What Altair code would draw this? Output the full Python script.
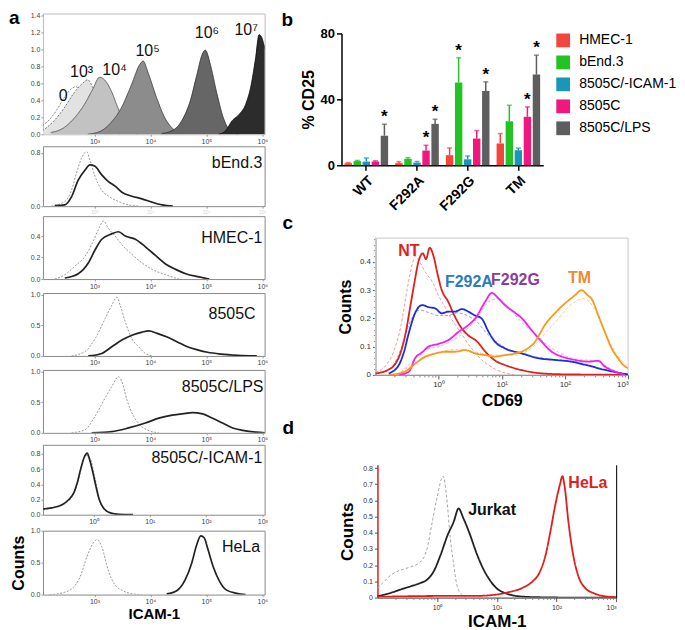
import math
import altair as alt
import pandas as pd

FONT = "Liberation Sans"
LBL = "'10' + ['⁰','¹','²','³','⁴','⁵','⁶','⁷'][round(datum.value)]"
ZFMT = "datum.value == 0 ? '0' : format(datum.value, '.1f')"

# ---------------- panel a : calibration beads (top) ----------------
A_TOP_NAMES = ["0", "10³", "10⁴", "10⁵", "10⁶", "10⁷"]
A_TOP_0_X = [2.07, 2.22, 2.34, 2.46, 2.58, 2.67, 2.76, 2.88, 3.0, 3.12, 3.24]
A_TOP_0_Y = [0.1, 0.19, 0.3, 0.43, 0.53, 0.56, 0.47, 0.24, 0.08, 0.02, 0.0]
A_TOP_3_X = [2.07, 2.28, 2.46, 2.64, 2.79, 2.88, 2.97, 3.09, 3.21, 3.33, 3.45]
A_TOP_3_Y = [0.04, 0.16, 0.31, 0.49, 0.6, 0.64, 0.55, 0.35, 0.16, 0.04, 0.0]
A_TOP_4_X = [2.22, 2.46, 2.64, 2.82, 2.97, 3.09, 3.18, 3.3, 3.42, 3.54, 3.66, 3.78]
A_TOP_4_Y = [0.02, 0.08, 0.19, 0.35, 0.53, 0.67, 0.64, 0.51, 0.31, 0.14, 0.04, 0.0]
A_TOP_5_X = [2.88, 3.12, 3.3, 3.48, 3.66, 3.81, 3.87, 3.96, 4.11, 4.26, 4.41, 4.56]
A_TOP_5_Y = [0.0, 0.04, 0.14, 0.31, 0.58, 0.82, 0.86, 0.72, 0.43, 0.19, 0.06, 0.01]
A_TOP_6_X = [4.2, 4.38, 4.56, 4.71, 4.83, 4.92, 4.98, 5.07, 5.19, 5.31, 5.43, 5.58]
A_TOP_6_Y = [0.01, 0.04, 0.16, 0.39, 0.7, 0.93, 0.99, 0.82, 0.47, 0.18, 0.04, 0.0]
A_TOP_7_X = [5.22, 5.34, 5.46, 5.58, 5.7, 5.79, 5.88, 5.94, 5.98, 6.03, 6.1]
A_TOP_7_Y = [0.0, 0.04, 0.16, 0.23, 0.35, 0.55, 0.9, 1.17, 1.15, 1.05, 0.9]
A_TOP_LBL_X = [2.44, 2.77, 3.36, 3.95, 5.01, 5.71]
A_TOP_LBL_Y = [0.45, 0.735, 0.76, 0.98, 1.19, 1.23]

# ---------------- panel a : cell lines ----------------
A_BEND_ISO_X = [2.23, 2.47, 2.59, 2.68, 2.77, 2.86, 2.92, 3.01, 3.13, 3.25, 3.43, 3.61, 3.8]
A_BEND_ISO_Y = [0.0, 0.07, 0.24, 0.5, 0.72, 0.82, 0.69, 0.45, 0.24, 0.15, 0.07, 0.02, 0.0]
A_BEND_X = [2.29, 2.47, 2.59, 2.71, 2.83, 2.92, 3.01, 3.13, 3.25, 3.37, 3.49, 3.67, 3.85, 4.03, 4.21, 4.4]
A_BEND_Y = [0.01, 0.02, 0.14, 0.39, 0.54, 0.62, 0.6, 0.47, 0.37, 0.3, 0.21, 0.15, 0.11, 0.06, 0.02, 0.0]

A_HMEC_ISO_X = [2.29, 2.47, 2.65, 2.83, 2.95, 3.07, 3.16, 3.25, 3.37, 3.49, 3.67, 3.85, 4.03, 4.27, 4.51]
A_HMEC_ISO_Y = [0.0, 0.04, 0.12, 0.21, 0.32, 0.46, 0.54, 0.47, 0.4, 0.32, 0.23, 0.15, 0.09, 0.04, 0.0]
A_HMEC_X = [2.47, 2.71, 2.89, 3.01, 3.13, 3.31, 3.43, 3.55, 3.73, 3.91, 4.09, 4.27, 4.45, 4.63, 4.87, 5.05]
A_HMEC_Y = [0.01, 0.05, 0.15, 0.27, 0.37, 0.42, 0.44, 0.4, 0.37, 0.3, 0.22, 0.14, 0.09, 0.05, 0.02, 0.0]

A_8505_ISO_X = [2.59, 2.83, 3.01, 3.19, 3.31, 3.40, 3.46, 3.55, 3.67, 3.79, 3.91, 4.03]
A_8505_ISO_Y = [0.0, 0.07, 0.28, 0.61, 0.83, 0.96, 0.83, 0.56, 0.28, 0.15, 0.04, 0.0]
A_8505_X = [2.89, 3.13, 3.31, 3.49, 3.67, 3.85, 3.97, 4.12, 4.3, 4.48, 4.66, 4.84, 5.02, 5.26, 5.56, 5.9]
A_8505_Y = [0.0, 0.04, 0.15, 0.26, 0.34, 0.39, 0.41, 0.37, 0.31, 0.23, 0.15, 0.1, 0.06, 0.03, 0.01, 0.0]

A_LPS_ISO_X = [2.59, 2.83, 3.01, 3.19, 3.31, 3.43, 3.49, 3.58, 3.70, 3.85, 4.03, 4.15]
A_LPS_ISO_Y = [0.0, 0.05, 0.27, 0.57, 0.76, 0.92, 0.84, 0.54, 0.27, 0.1, 0.02, 0.0]
A_LPS_X = [2.95, 3.31, 3.61, 3.91, 4.15, 4.39, 4.63, 4.75, 4.93, 5.11, 5.29, 5.47, 5.65, 5.89, 6.05]
A_LPS_Y = [0.0, 0.02, 0.08, 0.16, 0.24, 0.29, 0.32, 0.33, 0.31, 0.24, 0.16, 0.08, 0.04, 0.01, 0.0]

A_ICAM_ISO_X = [-0.9, -0.7, -0.5, -0.38, -0.3, -0.22, -0.14, -0.06, 0.02, 0.1, 0.2, 0.35, 0.6]
A_ICAM_ISO_Y = [0.06, 0.1, 0.15, 0.24, 0.38, 0.6, 0.78, 0.74, 0.5, 0.22, 0.06, 0.01, 0.0]
A_ICAM_X = [-0.9, -0.74, -0.56, -0.44, -0.35, -0.29, -0.23, -0.17, -0.11, -0.08, -0.02, 0.04, 0.1, 0.19, 0.31, 0.45, 0.7]
A_ICAM_Y = [0.075, 0.09, 0.13, 0.2, 0.29, 0.42, 0.6, 0.75, 0.81, 0.75, 0.58, 0.38, 0.2, 0.075, 0.02, 0.005, 0.0]

A_HELA_ISO_X = [2.2, 2.44, 2.62, 2.74, 2.86, 2.98, 3.05, 3.13, 3.25, 3.36, 3.51, 3.69, 3.85]
A_HELA_ISO_Y = [0.0, 0.03, 0.11, 0.27, 0.58, 0.81, 0.86, 0.75, 0.37, 0.16, 0.06, 0.01, 0.0]
A_HELA_X = [4.29, 4.47, 4.62, 4.74, 4.82, 4.9, 4.96, 5.03, 5.12, 5.24, 5.36, 5.54, 5.7]
A_HELA_Y = [0.01, 0.06, 0.23, 0.5, 0.76, 0.92, 0.89, 0.7, 0.44, 0.2, 0.07, 0.02, 0.0]

A_LABELS = ["bEnd.3", "HMEC-1", "8505C", "8505C/LPS", "8505C/-ICAM-1", "HeLa"]
A_LABEL_X = [6.0, 6.0, 5.88, 6.02, 3.0, 5.96]
A_LABEL_Y = [0.645, 0.38, 0.69, 0.75, 0.74, 0.75]

# ---------------- panel b : % CD25 ----------------
B_GROUPS = ["WT", "F292A", "F292G", "TM"]
B_SERIES = ["HMEC-1", "bEnd.3", "8505C/-ICAM-1", "8505C", "8505C/LPS"]
B_HMEC = [1.2, 1.3, 6.1, 13.2]
B_HMEC_ERR = [1.6, 2.2, 10.5, 19.2]
B_BEND = [2.5, 3.9, 50.2, 26.7]
B_BEND_ERR = [2.9, 4.6, 65.2, 36.4]
B_ICAM = [2.2, 1.6, 3.6, 9.1]
B_ICAM_ERR = [4.4, 2.3, 5.6, 10.4]
B_8505C = [2.2, 8.9, 16.2, 29.4]
B_8505C_ERR = [2.7, 12.1, 21.0, 35.4]
B_LPS = [17.9, 25.1, 45.1, 55.0]
B_LPS_ERR = [24.9, 27.9, 50.6, 66.8]
B_STARS = [("WT", "8505C/LPS"), ("F292A", "8505C"), ("F292A", "8505C/LPS"),
           ("F292G", "bEnd.3"), ("F292G", "8505C/LPS"), ("TM", "8505C"), ("TM", "8505C/LPS")]
B_COLORS = ["#f2463c", "#22c322", "#1a96b9", "#f0187f", "#5e5e5e"]

# ---------------- panel c : CD69 ----------------
C_NT_X = [-1.0, -0.8, -0.7, -0.6, -0.52, -0.45, -0.38, -0.32, -0.25, -0.2, -0.14, -0.08, -0.02, 0.05, 0.15, 0.25, 0.35, 0.47, 0.6, 0.75, 0.9, 1.05, 1.3, 1.6, 2.0, 2.5, 3.0]
C_NT_Y = [0.005, 0.018, 0.035, 0.08, 0.15, 0.24, 0.33, 0.4, 0.43, 0.41, 0.45, 0.42, 0.36, 0.3, 0.26, 0.21, 0.17, 0.14, 0.12, 0.08, 0.05, 0.035, 0.018, 0.006, 0.002, 0.001, 0.0]
C_NT_ISO_X = [-1.0, -0.85, -0.7, -0.6, -0.5, -0.42, -0.37, -0.3, -0.2, -0.1, 0.0, 0.1, 0.2, 0.35, 0.5, 0.7, 0.9, 1.2]
C_NT_ISO_Y = [0.01, 0.03, 0.09, 0.17, 0.3, 0.39, 0.42, 0.4, 0.36, 0.33, 0.28, 0.24, 0.2, 0.15, 0.1, 0.05, 0.02, 0.0]
C_A_X = [-0.79, -0.63, -0.55, -0.47, -0.37, -0.26, -0.16, -0.05, 0.05, 0.16, 0.26, 0.37, 0.47, 0.58, 0.68, 0.79, 0.89, 1.05, 1.32, 1.58, 1.84, 2.1, 2.37, 2.63, 2.89, 3.0]
C_A_Y = [0.005, 0.035, 0.08, 0.15, 0.22, 0.247, 0.24, 0.235, 0.218, 0.224, 0.224, 0.233, 0.224, 0.21, 0.2, 0.153, 0.118, 0.094, 0.076, 0.059, 0.053, 0.047, 0.033, 0.018, 0.006, 0.002]
C_A_ISO_X = [-0.85, -0.7, -0.6, -0.5, -0.4, -0.3, -0.15, 0.0, 0.15, 0.3, 0.45, 0.6, 0.75, 0.9, 1.1, 1.4, 1.8, 2.2, 2.6, 3.0]
C_A_ISO_Y = [0.01, 0.04, 0.09, 0.16, 0.21, 0.23, 0.22, 0.21, 0.21, 0.22, 0.21, 0.19, 0.15, 0.12, 0.09, 0.07, 0.055, 0.045, 0.02, 0.002]
C_G_X = [-0.63, -0.47, -0.37, -0.26, -0.16, 0.0, 0.16, 0.32, 0.47, 0.58, 0.74, 0.84, 0.95, 1.05, 1.21, 1.32, 1.47, 1.63, 1.79, 1.95, 2.16, 2.37, 2.53, 2.63, 2.79, 2.95]
C_G_Y = [0.0, 0.012, 0.06, 0.08, 0.1, 0.11, 0.124, 0.153, 0.176, 0.2, 0.26, 0.29, 0.27, 0.247, 0.22, 0.2, 0.159, 0.118, 0.082, 0.065, 0.053, 0.047, 0.05, 0.03, 0.012, 0.0]
C_G_ISO_X = [-0.6, -0.4, -0.2, 0.0, 0.2, 0.4, 0.6, 0.8, 0.95, 1.1, 1.3, 1.5, 1.7, 1.9, 2.2, 2.5, 2.7, 2.95]
C_G_ISO_Y = [0.01, 0.05, 0.09, 0.1, 0.12, 0.15, 0.2, 0.26, 0.27, 0.24, 0.19, 0.15, 0.11, 0.08, 0.055, 0.05, 0.025, 0.0]
C_TM_X = [-0.79, -0.53, -0.37, -0.21, -0.05, 0.11, 0.26, 0.42, 0.58, 0.74, 0.89, 1.05, 1.21, 1.37, 1.53, 1.68, 1.84, 2.0, 2.16, 2.26, 2.37, 2.42, 2.53, 2.63, 2.74, 2.84, 2.95, 3.0]
C_TM_Y = [0.0, 0.012, 0.04, 0.065, 0.076, 0.082, 0.082, 0.088, 0.076, 0.07, 0.065, 0.07, 0.076, 0.088, 0.118, 0.176, 0.218, 0.253, 0.282, 0.3, 0.28, 0.27, 0.21, 0.153, 0.094, 0.059, 0.03, 0.024]
C_TM_ISO_X = [-0.6, -0.3, 0.0, 0.3, 0.6, 0.9, 1.2, 1.5, 1.7, 1.9, 2.1, 2.3, 2.45, 2.6, 2.75, 2.9, 3.0]
C_TM_ISO_Y = [0.01, 0.05, 0.08, 0.09, 0.08, 0.07, 0.07, 0.1, 0.15, 0.2, 0.25, 0.27, 0.24, 0.17, 0.1, 0.05, 0.03]
C_LABELS = ["NT", "F292A", "F292G", "TM"]
C_LABEL_X = [-0.64, 0.1, 0.83, 2.05]
C_LABEL_Y = [0.44, 0.33, 0.335, 0.343]

# ---------------- panel d : ICAM-1 ----------------
D_JUR_X = [-1.0, -0.77, -0.61, -0.44, -0.28, -0.17, -0.06, 0.06, 0.17, 0.28, 0.36, 0.44, 0.55, 0.66, 0.77, 0.88, 0.99, 1.16, 1.43, 1.71, 2.26, 3.0]
D_JUR_Y = [0.008, 0.03, 0.05, 0.07, 0.09, 0.11, 0.16, 0.265, 0.38, 0.47, 0.55, 0.49, 0.39, 0.275, 0.18, 0.11, 0.06, 0.025, 0.006, 0.002, 0.0, 0.0]
D_ISO_X = [-1.0, -0.94, -0.77, -0.61, -0.44, -0.28, -0.17, -0.08, 0.0, 0.1, 0.16, 0.22, 0.28, 0.33, 0.41, 0.5]
D_ISO_Y = [0.06, 0.08, 0.14, 0.17, 0.19, 0.22, 0.3, 0.47, 0.62, 0.75, 0.62, 0.37, 0.2, 0.08, 0.02, 0.0]
D_HELA_X = [-1.0, -0.5, 0.0, 0.6, 0.88, 1.16, 1.43, 1.6, 1.71, 1.82, 1.9, 1.98, 2.06, 2.1, 2.14, 2.2, 2.28, 2.37, 2.48, 2.64, 2.81, 3.0]
D_HELA_Y = [0.005, 0.008, 0.01, 0.01, 0.014, 0.03, 0.06, 0.1, 0.15, 0.265, 0.41, 0.57, 0.7, 0.75, 0.68, 0.47, 0.265, 0.13, 0.06, 0.025, 0.008, 0.003]
D_LABELS = ["Jurkat", "HeLa"]
D_LABEL_X = [0.52, 2.2]
D_LABEL_Y = [0.54, 0.71]


def frame(xs, ys, **extra):
    d = pd.DataFrame({"x": xs, "y": ys})
    for k, v in extra.items():
        d[k] = v
    return d


def minor_log(lo, hi):
    return [d + math.log10(k) for d in range(lo, hi) for k in range(2, 10)]


ONE = pd.DataFrame({"k": [0]})


def letter(ch, dx, dy, opacity=1.0):
    return alt.Chart(ONE).mark_text(
        text=ch, fontSize=19, fontWeight="bold", font=FONT, align="left",
        baseline="alphabetic", opacity=opacity).encode(x=alt.value(dx), y=alt.value(dy))


# ================= panel a =================
A_W = 222
A_XDOM = [2.08, 6.04]


def a_axes(xdom, xvals, ydom, yvals, xlab_color="#444", xtitle=None, ytitle=None, xlab_size=7):
    X = alt.X("x:Q", scale=alt.Scale(domain=xdom, nice=False, zero=False),
              axis=alt.Axis(values=xvals, labelExpr=LBL, grid=False, domain=False, tickSize=2,
                            labelFontSize=xlab_size, labelPadding=1, labelColor=xlab_color,
                            tickColor="#999", labelFont=FONT, title=xtitle, titleFont=FONT,
                            titleFontSize=15, titleFontWeight="bold", titlePadding=2))
    Y = alt.Y("y:Q", scale=alt.Scale(domain=ydom, nice=False, zero=False),
              axis=alt.Axis(values=yvals, grid=False, domain=False, tickSize=2, labelFontSize=7,
                            labelPadding=1, labelColor="#444", tickColor="#999", labelFont=FONT,
                            title=ytitle, titleFont=FONT, titleFontSize=16, titleFontWeight="bold",
                            titlePadding=4))
    return X, Y


def a_panel(curves, height, ydom, yvals, label_i, xdom=A_XDOM, xvals=(3, 4, 5, 6),
            xlab_color="#444", xtitle=None, ytitle=None, xlab_size=7):
    X, Y = a_axes(xdom, list(xvals), ydom, yvals, xlab_color, xtitle, ytitle, xlab_size)
    layers = []
    for xs, ys, kind in curves:
        d = frame(xs, ys)
        if kind == "iso":
            m = alt.Chart(d).mark_line(color="#9a9a9a", strokeWidth=1, strokeDash=[2, 1.5],
                                       interpolate="monotone", clip=True)
        else:
            m = alt.Chart(d).mark_line(color="#222222", strokeWidth=1.7, interpolate="monotone",
                                       clip=True)
        layers.append(m.encode(x=X, y=Y))
    t = alt.Chart(pd.DataFrame({"x": [A_LABEL_X[label_i]], "y": [A_LABEL_Y[label_i]],
                                "t": [A_LABELS[label_i]]})).mark_text(
        align="right", baseline="middle", fontSize=16, font=FONT, color="#111").encode(
        x=X, y=Y, text="t:N")
    layers.append(t)
    return alt.layer(*layers).properties(
        width=A_W, height=height, view=alt.ViewBackground(stroke="#8a8a8a", strokeWidth=1))


top_curves = [(A_TOP_0_X, A_TOP_0_Y), (A_TOP_3_X, A_TOP_3_Y), (A_TOP_4_X, A_TOP_4_Y),
              (A_TOP_5_X, A_TOP_5_Y), (A_TOP_6_X, A_TOP_6_Y), (A_TOP_7_X, A_TOP_7_Y)]
top_fill = [None, "#e2e2e2", "#c2c2c2", "#8c8c8c", "#666666", "#2c2c2c"]
top_line = ["#777777", "#666666", "#555555", "#444444", "#333333", "#111111"]
TX, TY = a_axes(A_XDOM, [3, 4, 5, 6], [0, 1.42], [0, 0.2, 0.4, 0.6, 0.8, 1.0, 1.2, 1.4])
top_layers = []
for i, (xs, ys) in enumerate(top_curves):
    d = frame(xs, ys)
    if top_fill[i]:
        top_layers.append(alt.Chart(d).mark_area(color=top_fill[i], interpolate="monotone",
                                                 clip=True).encode(x=TX, y=TY))
    dash = [2, 1.5] if i < 2 else [1, 0]
    top_layers.append(alt.Chart(d).mark_line(color=top_line[i], strokeWidth=0.9, strokeDash=dash,
                                             interpolate="monotone", clip=True).encode(x=TX, y=TY))
top_layers.append(alt.Chart(pd.DataFrame({"x": A_TOP_LBL_X, "y": A_TOP_LBL_Y, "t": A_TOP_NAMES}))
                  .mark_text(fontSize=16, font=FONT, color="#111", baseline="middle")
                  .encode(x=TX, y=TY, text="t:N"))
top_layers.append(letter("a", -34, 11))
a_top = alt.layer(*top_layers).properties(
    width=A_W, height=121, view=alt.ViewBackground(stroke="#bbbbbb", strokeWidth=1))

a_bend = a_panel([(A_BEND_ISO_X, A_BEND_ISO_Y, "iso"), (A_BEND_X, A_BEND_Y, "main")], 60,
                 [0, 0.9], [0, 0.8], 0, xlab_color="#d4d4d4", xlab_size=5)
a_hmec = a_panel([(A_HMEC_ISO_X, A_HMEC_ISO_Y, "iso"), (A_HMEC_X, A_HMEC_Y, "main")], 63,
                 [0, 0.585], [0, 0.2, 0.4], 1)
a_8505 = a_panel([(A_8505_ISO_X, A_8505_ISO_Y, "iso"), (A_8505_X, A_8505_Y, "main")], 63,
                 [0, 1.03], [0, 0.5, 1], 2)
a_lps = a_panel([(A_LPS_ISO_X, A_LPS_ISO_Y, "iso"), (A_LPS_X, A_LPS_Y, "main")], 63,
                [0, 1.03], [0, 0.5, 1], 3)
a_icam = a_panel([(A_ICAM_ISO_X, A_ICAM_ISO_Y, "iso"), (A_ICAM_X, A_ICAM_Y, "main")], 70,
                 [0, 0.92], [0, 0.2, 0.4, 0.6, 0.8], 4, xdom=[-0.9, 3.04], xvals=(0, 1, 2, 3))
a_hela = a_panel([(A_HELA_ISO_X, A_HELA_ISO_Y, "iso"), (A_HELA_X, A_HELA_Y, "main")], 64,
                 [0, 1.0], [0, 0.5, 1], 5, xtitle="ICAM-1", ytitle="Counts")

left = alt.vconcat(a_top, a_bend, a_hmec, a_8505, a_lps, a_icam, a_hela, spacing=0)

# ================= panel b =================
B_TOP = 20
B_H = 132
rows = []
vals = [B_HMEC, B_BEND, B_ICAM, B_8505C, B_LPS]
errs = [B_HMEC_ERR, B_BEND_ERR, B_ICAM_ERR, B_8505C_ERR, B_LPS_ERR]
for si, s in enumerate(B_SERIES):
    for gi, g in enumerate(B_GROUPS):
        rows.append({"group": g, "series": s, "value": vals[si][gi], "err": errs[si][gi],
                     "star": 1 if (g, s) in B_STARS else 0})
bdf = pd.DataFrame(rows)

BX = alt.X("group:N", sort=B_GROUPS, scale=alt.Scale(paddingInner=0.14, paddingOuter=0.06),
           axis=alt.Axis(labelAngle=-45, labelFontSize=14, labelFontWeight="bold", labelFont=FONT,
                         tickSize=5, tickWidth=1.5, domainWidth=1.5, domainColor="black",
                         tickColor="black", labelColor="black", title=None, labelPadding=3))
BXO = alt.XOffset("series:N", sort=B_SERIES, scale=alt.Scale(paddingInner=0.18))
BY = alt.Y("value:Q", scale=alt.Scale(domain=[0, 80], range=[B_TOP + B_H, B_TOP], nice=False),
           axis=alt.Axis(values=[0, 20, 40, 60, 80], labelFontSize=13, labelFontWeight="bold",
                         labelFont=FONT, tickSize=5, tickWidth=1.5, domainWidth=1.5,
                         domainColor="black", tickColor="black", labelColor="black", grid=False,
                         labelOverlap=False, title="% CD25", titleFont=FONT, titleFontSize=16,
                         titleFontWeight="bold", titlePadding=4))
BC = alt.Color("series:N", sort=B_SERIES, scale=alt.Scale(domain=B_SERIES, range=B_COLORS),
               legend=alt.Legend(title=None, symbolType="square", symbolSize=190,
                                 symbolStrokeWidth=0, labelFontSize=14, labelFont=FONT,
                                 rowPadding=8, padding=0, labelOffset=9, orient="none",
                                 legendX=215, legendY=B_TOP))
BC2 = alt.Color("series:N", sort=B_SERIES, scale=alt.Scale(domain=B_SERIES, range=B_COLORS),
                legend=None)
base = alt.Chart(bdf)
b_bars = base.mark_bar().encode(x=BX, xOffset=BXO, y=BY, color=BC)
b_err = base.mark_rule(strokeWidth=1.5).encode(x=BX, xOffset=BXO, y="value:Q", y2="err:Q",
                                                 color=BC2)
b_cap = base.mark_tick(thickness=1.5, size=5).encode(x=BX, xOffset=BXO, y="err:Q", color=BC2)
b_star = base.transform_filter("datum.star == 1").mark_text(
    text="*", fontSize=17, fontWeight="bold", font=FONT, color="black", baseline="middle",
    dy=-7).encode(x=BX, xOffset=BXO, y="err:Q")
panel_b = alt.layer(b_bars, b_err, b_cap, b_star, letter("b", -60, B_TOP - 7)).resolve_legend(
    color="independent").properties(width=202, height=B_TOP + B_H,
                                   view=alt.ViewBackground(stroke=None))

# ================= panel c =================
C_OFF = 34
C_W = 253
c_parts = [
    (C_NT_ISO_X, C_NT_ISO_Y, "NT iso", "dash"), (C_A_ISO_X, C_A_ISO_Y, "F292A iso", "dash"),
    (C_G_ISO_X, C_G_ISO_Y, "F292G iso", "dash"), (C_TM_ISO_X, C_TM_ISO_Y, "TM iso", "dash"),
    (C_NT_X, C_NT_Y, "NT", "solid"), (C_A_X, C_A_Y, "F292A", "solid"),
    (C_G_X, C_G_Y, "F292G", "solid"), (C_TM_X, C_TM_Y, "TM", "solid")]
cdf = pd.concat([frame(xs, ys, s=s, dash=dsh) for xs, ys, s, dsh in c_parts], ignore_index=True)
C_DOM = [p[2] for p in c_parts]
C_RANGE = ["#f39a9a", "#8f9ef0", "#f3a3f0", "#f8c98f", "#e0201c", "#1c2fd6", "#ee22ee", "#f59a1e"]

CX = alt.X("x:Q", scale=alt.Scale(domain=[-1, 3], range=[C_OFF, C_OFF + C_W], nice=False,
                                  zero=False),
           axis=alt.Axis(values=[0, 1, 2, 3], labelExpr=LBL, labelFontSize=8, labelFont=FONT,
                         tickSize=4, grid=False, domainColor="#666", tickColor="#555",
                         labelColor="#333", orient="bottom", title="CD69", titleFont=FONT,
                         titleFontSize=16, titleFontWeight="bold", titlePadding=4))
CY = alt.Y("y:Q", scale=alt.Scale(domain=[0, 0.484], nice=False, zero=False),
           axis=alt.Axis(values=[0, 0.1, 0.2, 0.3, 0.4], labelExpr=ZFMT, labelFontSize=8,
                         labelFont=FONT, tickSize=3, grid=False, domainColor="#777",
                         tickColor="#555", labelColor="#333", orient="left", offset=-C_OFF,
                         title="Counts", titleFont=FONT, titleFontSize=16, titleFontWeight="bold",
                         titlePadding=6))
CXm = alt.X("x:Q", axis=alt.Axis(values=minor_log(-1, 3), labels=False, tickSize=2, domain=False,
                                  grid=False, tickColor="#888", orient="bottom", title=None))
CYm = alt.Y("y:Q", axis=alt.Axis(values=[i / 50 for i in range(25)], labels=False, tickSize=2,
                                  domain=False, grid=False, tickColor="#888", orient="left",
                                  offset=-C_OFF, title=None))
c_frame = alt.Chart(ONE).mark_rect(fillOpacity=0, stroke="#c8c8c8", strokeWidth=1).encode(
    x=alt.value(C_OFF), x2=alt.value(C_OFF + C_W), y=alt.value(0), y2=alt.value(137))
c_lines = alt.Chart(cdf).mark_line(interpolate="monotone", clip=True).encode(
    x=CX, y=CY,
    color=alt.Color("s:N", scale=alt.Scale(domain=C_DOM, range=C_RANGE), legend=None),
    strokeDash=alt.StrokeDash("dash:N", scale=alt.Scale(domain=["solid", "dash"],
                                                        range=[[1, 0], [3, 2]]), legend=None),
    strokeWidth=alt.StrokeWidth("dash:N", scale=alt.Scale(domain=["solid", "dash"],
                                                          range=[1.8, 1.0]), legend=None),
    detail="s:N")
c_minor = alt.Chart(cdf).mark_point(opacity=0).encode(x=CXm, y=CYm)
c_text = alt.Chart(pd.DataFrame({"x": C_LABEL_X, "y": C_LABEL_Y, "t": C_LABELS})).mark_text(
    fontSize=16, fontWeight="bold", font=FONT, align="left", baseline="middle").encode(
    x=alt.X("x:Q", axis=None), y=alt.Y("y:Q", axis=None), text="t:N",
    color=alt.Color("t:N", scale=alt.Scale(domain=C_LABELS,
                                           range=["#e3211c", "#2b7bbd", "#8b3c9e", "#ef8a2e"]),
                    legend=None))
panel_c = alt.layer(c_frame, c_lines, c_minor, c_text, letter("c", -59, -9)).resolve_axis(
    x="independent", y="independent").resolve_scale(color="independent").properties(
    width=C_OFF + C_W, height=137, view=alt.ViewBackground(stroke=None))

# ================= panel d =================
D_OFF = 36
D_W = 239
d_parts = [(D_ISO_X, D_ISO_Y, "Jurkat iso", "dash"), (D_JUR_X, D_JUR_Y, "Jurkat", "solid"),
           (D_HELA_X, D_HELA_Y, "HeLa", "solid")]
ddf = pd.concat([frame(xs, ys, s=s, dash=dsh) for xs, ys, s, dsh in d_parts], ignore_index=True)
DX = alt.X("x:Q", scale=alt.Scale(domain=[-1, 3], range=[D_OFF, D_OFF + D_W], nice=False,
                                  zero=False),
           axis=alt.Axis(values=[0, 1, 2, 3], labelExpr=LBL, labelFontSize=7, labelFont=FONT,
                         tickSize=4, grid=False, domainColor="#333", tickColor="#555",
                         labelColor="#333", orient="bottom", title="ICAM-1", titleFont=FONT,
                         titleFontSize=17, titleFontWeight="bold", titlePadding=3))
DY = alt.Y("y:Q", scale=alt.Scale(domain=[0, 0.82], nice=False, zero=False),
           axis=alt.Axis(values=[i / 10 for i in range(9)], labelExpr=ZFMT, labelFontSize=7,
                         labelFont=FONT, tickSize=3, grid=False, domainColor="#e0201c",
                         domainWidth=1.5, tickColor="#555", labelColor="#333", orient="left",
                         offset=-D_OFF, title="Counts", titleFont=FONT, titleFontSize=17,
                         titleFontWeight="bold", titlePadding=6))
DXm = alt.X("x:Q", axis=alt.Axis(values=minor_log(-1, 3), labels=False, tickSize=2, domain=False,
                                  grid=False, tickColor="#888", orient="bottom", title=None))
DYr = alt.Y("y:Q", axis=alt.Axis(orient="right", labels=False, ticks=False, domain=True,
                                  domainColor="#222", domainWidth=1.2, grid=False, title=None))
d_lines = alt.Chart(ddf).mark_line(interpolate="monotone", clip=True).encode(
    x=DX, y=DY,
    color=alt.Color("s:N", scale=alt.Scale(domain=["Jurkat iso", "Jurkat", "HeLa"],
                                           range=["#a8a8a8", "#222222", "#e01e1e"]), legend=None),
    strokeDash=alt.StrokeDash("dash:N", scale=alt.Scale(domain=["solid", "dash"],
                                                        range=[[1, 0], [3, 2]]), legend=None),
    strokeWidth=alt.StrokeWidth("dash:N", scale=alt.Scale(domain=["solid", "dash"],
                                                          range=[1.6, 1.0]), legend=None),
    detail="s:N")
d_minor = alt.Chart(ddf).mark_point(opacity=0).encode(x=DXm, y=DYr)
d_text = alt.Chart(pd.DataFrame({"x": D_LABEL_X, "y": D_LABEL_Y, "t": D_LABELS})).mark_text(
    fontSize=16, fontWeight="bold", font=FONT, align="left", baseline="middle").encode(
    x=alt.X("x:Q", axis=None), y=alt.Y("y:Q", axis=None), text="t:N",
    color=alt.Color("t:N", scale=alt.Scale(domain=D_LABELS, range=["#111111", "#e01e1e"]),
                    legend=None))
panel_d = alt.layer(d_lines, d_minor, d_text, letter("d", -59, -31),
                    letter("d", -59, -41, opacity=0)).resolve_axis(
    x="independent", y="independent").resolve_scale(color="independent").properties(
    width=D_OFF + D_W, height=133, view=alt.ViewBackground(stroke=None))

right = alt.vconcat(panel_b, panel_c, panel_d, spacing=0)

chart = alt.hconcat(left, right, spacing=13).properties(
    padding=0, background="white").configure(font=FONT).configure_view(stroke=None)

chart.save("out.html", embed_options={"renderer": "svg", "actions": False})
